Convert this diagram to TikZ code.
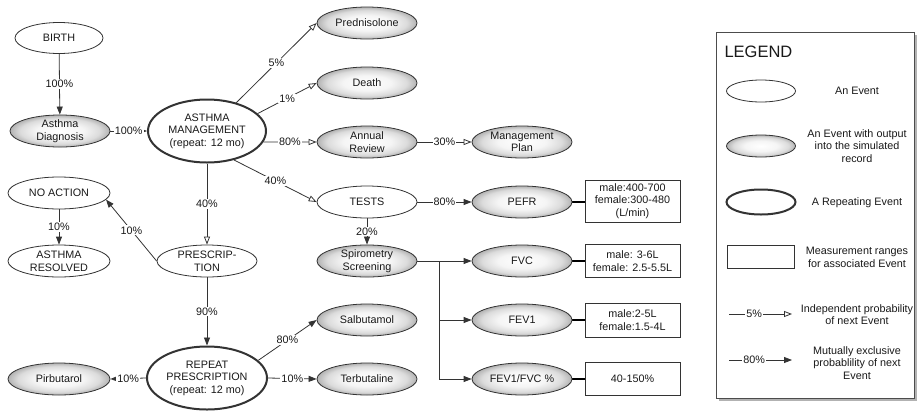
\documentclass[tikz,border=0pt]{standalone}
\usepackage{fontspec}
\setmainfont{Liberation Sans}
\usetikzlibrary{shapes.geometric,arrows.meta,backgrounds,shadows}
\pgfdeclareradialshading{evshade}{\pgfpoint{0bp}{0bp}}{%
  color(0bp)=(white);
  color(12bp)=(black!4);
  color(20bp)=(black!14);
  color(25bp)=(black!30);
  color(50bp)=(black!30)}
\begin{document}
\begin{tikzpicture}[x=1pt,y=-1pt,
  font=\fontsize{10.8}{12.6}\selectfont,
  ev/.style={ellipse, draw=black!80, line width=0.8pt, fill=white, inner sep=0pt,
    minimum width=100pt, minimum height=32pt, align=center, text=black!90},
  evout/.style={ev, shading=evshade},
  rep/.style={ev, line width=2pt, minimum width=118pt, minimum height=63pt},
  rangebox/.style={rectangle, draw=black!80, line width=0.8pt, fill=white,
    minimum width=95pt, align=center, inner sep=0pt, text=black!90},
  conn/.style={draw=black!80, line width=0.8pt},
  indep/.style={conn, -{Triangle[open,length=8pt,width=6pt,line width=0.8pt]}},
  excl/.style={conn, -{Triangle[length=8pt,width=6pt]}},
  pct/.style={fill=white, inner sep=1pt, text=black!90},
  meas/.style={draw=black, line width=2.5pt},
  legtext/.style={align=center, text=black!90}
]
\useasboundingbox (0,0) rectangle (920,410);

% left column
\node[ev, minimum width=88pt, minimum height=31pt] (birth) at (59,38) {BIRTH};
\node[evout] (diag) at (60,131) {Asthma\\Diagnosis};
\node[rep] (mgmt) at (207,131) {ASTHMA\\MANAGEMENT\\(repeat: 12 mo)};
\node[ev, minimum width=102pt] (noact) at (59,193) {NO ACTION};
\node[ev, minimum width=102pt] (resolved) at (59,261) {ASTHMA\\RESOLVED};
\node[ev] (presc) at (207,261) {PRESCRIP-\\TION};
\node[rep, minimum width=120pt] (repeat) at (207,378) {REPEAT\\PRESCRIPTION\\(repeat: 12 mo)};
\node[evout, minimum width=102pt] (pirb) at (59,379) {Pirbutarol};

% middle column
\node[evout] (pred) at (367,23) {Prednisolone};
\node[evout] (death) at (367,83) {Death};
\node[evout] (annual) at (367,142) {Annual\\Review};
\node[ev] (tests) at (367,202) {TESTS};
\node[evout] (spiro) at (367,261) {Spirometry\\Screening};
\node[evout] (salb) at (367,320) {Salbutamol};
\node[evout] (terb) at (367,379) {Terbutaline};

% right column
\node[evout] (mplan) at (522,142) {Management\\Plan};
\node[evout] (pefr) at (522,202) {PEFR};
\node[evout] (fvc) at (522,261) {FVC};
\node[evout] (fev1) at (522,320) {FEV1};
\node[evout] (fevfvc) at (522,379) {FEV1/FVC \%};

\node[rangebox, minimum height=42pt] (pefrbox) at (632.5,201) {male:400-700\\female:300-480\\(L/min)};
\node[rangebox, minimum height=33pt] (fvcbox) at (632.5,261) {male: 3-6L\\female: 2.5-5.5L};
\node[rangebox, minimum height=34pt] (fev1box) at (632.5,320) {male:2-5L\\female:1.5-4L};
\node[rangebox, minimum height=33pt] (ratiobox) at (632.5,379) {40-150\%};

\coordinate (br) at (439,261);

\begin{scope}[on background layer]
\draw[excl] (birth) -- node[pct]{100\%} (diag);
\draw[excl] (diag) -- node[pct]{100\%} (mgmt);
\draw[indep] (mgmt.44) -- node[pct]{5\%} (pred.west);
\draw[indep] (mgmt.19) -- node[pct]{1\%} (death.west);
\draw[indep] (mgmt.-11) -- node[pct]{80\%} (annual.west);
\draw[indep] (mgmt.-47) -- node[pct]{40\%} (tests.west);
\draw[indep] (mgmt) -- node[pct]{40\%} (presc);
\draw[excl] (presc.west) -- node[pct]{10\%} (noact.-8);
\draw[excl] (noact) -- node[pct]{10\%} (resolved);
\draw[excl] (presc) -- node[pct]{90\%} (repeat);
\draw[excl] (repeat.19) -- node[pct]{80\%} (salb.west);
\draw[excl] (repeat.east) -- node[pct]{10\%} (terb.west);
\draw[excl] (repeat.west) -- node[pct]{10\%} (pirb.east);
\draw[indep] (annual) -- node[pct]{30\%} (mplan);
\draw[excl] (tests) -- node[pct]{80\%} (pefr);
\draw[excl] (tests) -- node[pct]{20\%} (spiro);
\draw[excl] (spiro.east) -- (fvc.west);
\draw[excl] (br) |- (fev1.west);
\draw[excl] (br) |- (fevfvc.west);
\draw[meas] (pefr.east) -- (pefrbox.west |- pefr.east);
\draw[meas] (fvc.east) -- (fvcbox.west);
\draw[meas] (fev1.east) -- (fev1box.west);
\draw[meas] (fevfvc.east) -- (ratiobox.west);
\end{scope}

% legend
\node[rectangle, draw=black!70, line width=0.8pt, fill=white, minimum width=198pt,
  minimum height=366pt, inner sep=0pt,
  drop shadow={shadow xshift=2.5pt, shadow yshift=-2.5pt, fill=black!60, opacity=0.5}]
  (legbox) at (815,215) {};
\node[anchor=west, font=\fontsize{16.5}{18}\selectfont, text=black!90] (legtitle) at (721,52) {LEGEND};
\node[ev, minimum width=69pt, minimum height=22pt] (lev) at (761,91) {};
\node[legtext] (levt) at (857,91) {An Event};
\node[evout, minimum width=69pt, minimum height=22pt] (levout) at (761,146) {};
\node[legtext] (levoutt) at (857,146) {An Event with output\\into the simulated\\record};
\node[rep, minimum width=69pt, minimum height=25pt] (lrep) at (761,202) {};
\node[legtext] (lrept) at (857,203) {A Repeating Event};
\node[rangebox, minimum width=67pt, minimum height=23pt] (lbox) at (761,257) {};
\node[legtext] (lboxt) at (857,257.5) {Measurement ranges\\for associated Event};
\coordinate (i1) at (729,314);
\coordinate (i2) at (792,314);
\draw[indep] (i1) -- node[pct,pos=0.4]{5\%} (i2);
\node[legtext] (lindt) at (857,314.5) {Independent probability\\of next Event};
\coordinate (m1) at (729,360);
\coordinate (m2) at (792,360);
\draw[excl] (m1) -- node[pct,pos=0.4]{80\%} (m2);
\node[legtext] (lmext) at (857,363) {Mutually exclusive\\probablility of next\\Event};
\end{tikzpicture}
\end{document}
